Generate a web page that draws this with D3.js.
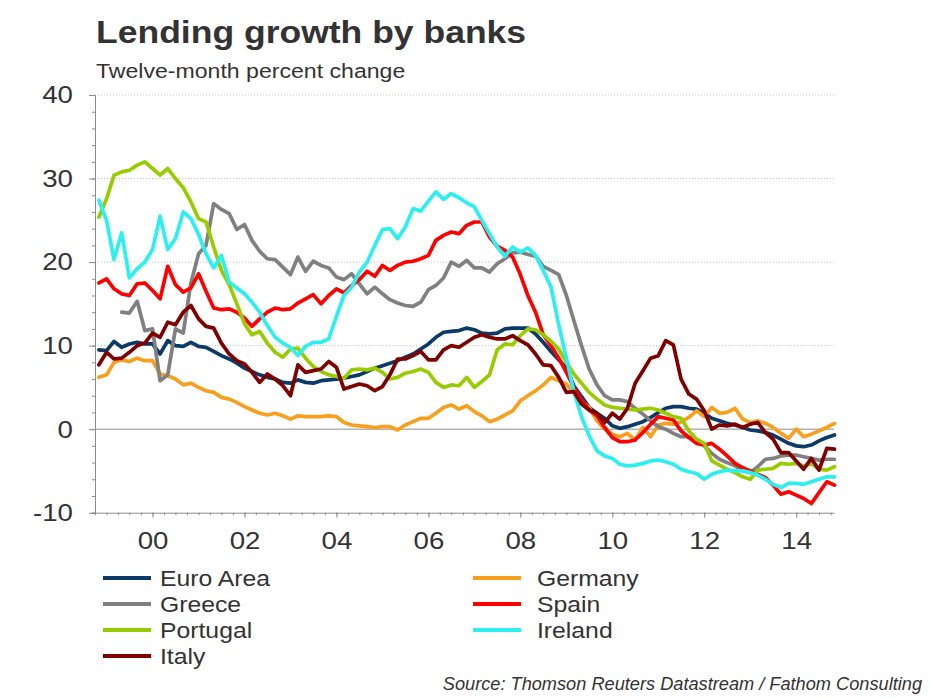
<!DOCTYPE html>
<html>
<head>
<meta charset="utf-8">
<script src="https://cdn.jsdelivr.net/npm/d3@7"></script>
<style>
  html, body { margin: 0; padding: 0; background: #fff; }
  svg { display: block; font-family: Arial, "Liberation Sans", sans-serif; }
</style>
</head>
<body>
<svg id="chart" width="930" height="699"></svg>
<script>
// ---- Data (two-monthly observations, twelve-month % change) ----
const months = [
  "1998-11",
  "1999-01","1999-03","1999-05","1999-07","1999-09","1999-11",
  "2000-01","2000-03","2000-05","2000-07","2000-09","2000-11",
  "2001-01","2001-03","2001-05","2001-07","2001-09","2001-11",
  "2002-01","2002-03","2002-05","2002-07","2002-09","2002-11",
  "2003-01","2003-03","2003-05","2003-07","2003-09","2003-11",
  "2004-01","2004-03","2004-05","2004-07","2004-09","2004-11",
  "2005-01","2005-03","2005-05","2005-07","2005-09","2005-11",
  "2006-01","2006-03","2006-05","2006-07","2006-09","2006-11",
  "2007-01","2007-03","2007-05","2007-07","2007-09","2007-11",
  "2008-01","2008-03","2008-05","2008-07","2008-09","2008-11",
  "2009-01","2009-03","2009-05","2009-07","2009-09","2009-11",
  "2010-01","2010-03","2010-05","2010-07","2010-09","2010-11",
  "2011-01","2011-03","2011-05","2011-07","2011-09","2011-11",
  "2012-01","2012-03","2012-05","2012-07","2012-09","2012-11",
  "2013-01","2013-03","2013-05","2013-07","2013-09","2013-11",
  "2014-01","2014-03","2014-05","2014-07","2014-09","2014-11"
];

const euroArea = [9.5,
  9.4,10.5,9.8,10.2,10.4,10.2, 10.2,9.0,10.6,10.0,9.9,10.4, 9.9,9.8,9.3,8.8,8.4,7.9,
  7.3,6.9,6.5,6.2,6.0,5.6, 5.5,5.9,5.6,5.5,5.8,5.9, 6.0,6.1,6.3,6.5,6.9,7.3,
  7.6,7.9,8.2,8.6,9.0,9.6, 10.2,11.0,11.6,11.7,11.8,12.1, 11.9,11.5,11.4,11.5,12.0,12.1,
  12.1,12.1,11.4,10.4,9.3,8.3, 7.3,5.2,3.9,2.6,1.9,1.3, 0.4,0.1,0.3,0.6,0.9,1.4,
  2.0,2.5,2.7,2.7,2.5,2.4, 1.9,1.3,1.0,0.7,0.5,0.2, -0.1,-0.2,-0.4,-0.7,-1.2,-1.7,
  -2.0,-2.1,-1.9,-1.4,-1.0,-0.7];

const germany = [6.2,
  6.5,8.0,8.3,8.1,8.5,8.2, 8.2,6.6,6.4,6.0,5.3,5.5, 5.0,4.6,4.4,3.8,3.6,3.2,
  2.7,2.3,1.9,1.7,1.9,1.6, 1.2,1.6,1.5,1.5,1.5,1.6, 1.5,0.8,0.5,0.4,0.3,0.2,
  0.3,0.3,-0.1,0.5,0.9,1.3, 1.3,1.9,2.6,2.9,2.4,2.8, 2.1,1.6,0.9,1.2,1.7,2.2,
  3.4,4.0,4.6,5.3,6.2,5.8, 5.4,4.4,3.3,2.6,1.0,0.0, -0.6,-0.9,-0.5,-1.3,0.2,-0.9,
  0.5,0.7,0.6,0.9,1.4,2.2, 1.5,2.6,1.9,2.0,2.5,1.2, 0.8,1.0,0.7,0.2,-0.5,-1.1,
  0.0,-0.9,-0.6,-0.2,0.2,0.7];

const greece = [null,
  null,null,14.0,13.9,15.3,11.8, 12.0,5.8,6.5,12.0,11.5,17.5, 21.0,22.0,27.0,26.3,25.8,23.9,
  24.5,22.6,21.3,20.4,20.3,19.4, 18.5,20.6,18.9,20.1,19.6,19.3, 18.2,17.9,18.6,17.4,16.2,17.0,
  16.2,15.5,15.1,14.8,14.7,15.2, 16.7,17.2,18.1,20.0,19.5,20.2, 19.3,19.3,18.8,19.8,20.4,21.1,
  21.2,20.9,20.7,19.5,19.0,18.5, 16.0,13.0,10.0,7.2,5.3,4.0, 3.5,3.5,3.3,2.5,1.8,1.0,
  0.3,0.0,-0.5,-0.9,-0.9,-1.3, -2.0,-2.9,-3.6,-4.0,-4.4,-4.9, -5.2,-4.5,-3.6,-3.5,-3.2,-3.1,
  -3.1,-3.3,-3.5,-3.7,-3.6,-3.6];

const spain = [17.5,
  18.0,16.8,16.2,16.0,17.4,17.5, 16.6,15.6,19.5,17.3,16.4,16.9, 18.6,16.5,14.5,14.3,14.4,14.0,
  13.3,12.3,13.2,14.0,14.5,14.3, 14.4,15.1,15.6,16.1,15.0,16.0, 16.8,16.3,17.2,17.9,18.9,18.3,
  19.6,19.0,19.6,20.0,20.1,20.4, 20.8,22.6,23.2,23.6,23.4,24.4, 24.8,24.8,23.0,21.9,21.4,20.6,
  18.5,16.0,14.0,11.3,10.0,8.5, 6.8,5.0,3.5,2.3,1.6,0.2, -1.0,-1.5,-1.5,-1.3,-0.4,0.6,
  1.5,1.3,1.1,-0.2,-1.0,-1.7, -1.9,-1.7,-2.4,-3.2,-4.1,-4.6, -5.0,-5.4,-5.8,-6.7,-7.8,-7.5,
  -7.9,-8.3,-8.9,-7.6,-6.3,-6.7];

const portugal = [25.4,
  27.6,30.4,30.8,31.0,31.6,32.0, 31.2,30.4,31.2,30.0,28.9,27.2, 25.2,24.8,21.8,19.0,17.3,15.0,
  12.6,11.3,11.7,10.3,9.2,8.6, 9.6,9.7,8.5,7.5,6.9,6.5, 6.3,6.1,7.1,7.2,7.1,7.3,
  6.8,6.0,6.2,6.7,6.9,7.2, 6.8,5.6,5.0,5.3,5.2,6.2, 5.0,5.7,6.5,9.5,10.2,10.1,
  11.2,12.0,11.9,11.3,10.5,9.6, 8.0,6.6,5.5,4.4,3.6,2.9, 2.6,2.5,2.4,2.3,2.4,2.5,
  2.3,1.9,1.5,1.3,-0.2,-1.2, -1.7,-3.8,-4.3,-4.8,-5.2,-5.7, -6.0,-4.9,-4.8,-4.7,-4.1,-4.2,
  -4.1,-4.4,-4.1,-4.8,-4.9,-4.5];

const ireland = [27.4,
  25.0,20.3,23.5,18.1,19.2,20.0, 21.5,25.5,21.5,22.8,26.0,25.2, 23.3,21.0,19.3,20.8,17.6,16.9,
  16.2,15.2,14.0,12.4,11.0,10.3, 9.8,8.8,9.9,10.4,10.4,10.8, 13.5,16.0,17.0,18.8,20.0,22.0,
  23.9,24.0,22.8,24.2,26.4,26.1, 27.3,28.4,27.5,28.2,27.7,27.1, 26.6,25.0,23.4,21.8,20.7,21.8,
  21.2,21.7,20.8,19.0,17.0,12.5, 8.5,4.5,1.5,-0.8,-2.6,-3.2, -3.5,-4.2,-4.4,-4.3,-4.1,-3.8,
  -3.7,-3.9,-4.2,-4.8,-5.1,-5.3, -6.0,-5.4,-5.1,-4.9,-5.0,-5.0, -5.2,-5.5,-6.0,-6.6,-7.0,-6.5,
  -6.5,-6.6,-6.3,-6.0,-5.7,-5.7];

const italy = [7.7,
  9.2,8.4,8.5,9.2,10.0,10.3, 11.5,11.0,12.8,12.5,14.0,14.8, 13.2,12.3,12.1,10.3,9.0,8.2,
  7.8,6.8,5.6,6.6,6.0,5.2, 4.0,7.7,6.8,7.0,7.2,8.1, 7.4,4.8,5.1,5.4,5.2,4.6,
  5.1,6.5,8.4,8.4,8.8,9.3, 8.3,8.3,9.5,10.0,9.8,10.4, 11.0,11.3,11.0,10.8,10.8,11.2,
  10.6,10.1,9.0,7.7,7.6,6.2, 4.4,4.5,3.0,2.3,1.9,0.8, 1.9,1.2,2.5,5.5,7.0,8.5,
  8.8,10.6,10.1,6.0,4.2,3.6, 2.2,0.0,0.5,0.4,0.6,0.2, 0.6,0.8,-0.4,-1.2,-2.8,-2.8,
  -3.8,-4.8,-3.5,-4.9,-2.3,-2.4];

const seriesNames  = ["Euro Area","Germany","Greece","Spain","Portugal","Ireland","Italy"];
const seriesValues = [euroArea, germany, greece, spain, portugal, ireland, italy];
const seriesColors = ["#0c3a68","#f8a01e","#808080","#fe0000","#99cc00","#2cf0f0","#800000"];

const yTicks = [-10, 0, 10, 20, 30, 40];
const gridValues = [10, 20, 30, 40];

// ---- Layout ----
const svg = d3.select("#chart");
const plot = { left: 95, right: 834, top: 95, bottom: 512.7 };
const parse = d3.timeParse("%Y-%m");
const dates = months.map(parse);

const x = d3.scaleTime()
  .domain([new Date(1998, 9, 1), new Date(2014, 9, 28)])
  .range([plot.left, plot.right]);
const y = d3.scaleLinear().domain([-10, 40]).range([plot.bottom, plot.top]);

const textColor = "#333333";
const axisColor = "#8c8c8c";
const FONT = "Arial, 'Liberation Sans', sans-serif";

// helper: text with horizontal stretch, anchored at (tx, ty)
function stretchedText(tx, ty, sx, txt, size, opts = {}) {
  const t = svg.append("text")
    .attr("transform", `translate(${tx},${ty}) scale(${sx},1)`)
    .attr("font-size", size).attr("fill", textColor).text(txt);
  if (opts.bold) t.attr("font-weight", "bold");
  if (opts.italic) t.attr("font-style", "italic");
  if (opts.anchor) t.attr("text-anchor", opts.anchor);
  return t;
}

// Titles
stretchedText(96, 43, 1.11, "Lending growth by banks", 32, { bold: true });
stretchedText(96, 78, 1.1, "Twelve-month percent change", 21);

// Gridlines (dotted)
svg.append("g").selectAll("line").data(gridValues).join("line")
  .attr("x1", plot.left).attr("x2", plot.right)
  .attr("y1", d => y(d)).attr("y2", d => y(d))
  .attr("stroke", "#c4c4c4").attr("stroke-width", 1)
  .attr("stroke-dasharray", "1,2");

// Zero line
svg.append("line")
  .attr("x1", plot.left).attr("x2", plot.right)
  .attr("y1", y(0)).attr("y2", y(0))
  .attr("stroke", axisColor).attr("stroke-width", 1);

// Y axis: minor ticks every 2, major every 10
const yMinor = d3.axisLeft(y).tickValues(d3.range(-10, 41, 2)).tickSize(3).tickFormat("");
svg.append("g").attr("transform", `translate(${plot.left},0)`).call(yMinor)
  .call(g => g.select(".domain").attr("stroke", axisColor))
  .call(g => g.selectAll(".tick line").attr("stroke", axisColor));
const yMajor = d3.axisLeft(y).tickValues(yTicks).tickSize(6).tickPadding(13.5).tickFormat(d => String(d));
svg.append("g").attr("transform", `translate(${plot.left},0)`).call(yMajor)
  .call(g => g.select(".domain").remove())
  .call(g => g.selectAll(".tick line").attr("stroke", axisColor))
  .call(g => g.selectAll(".tick text").attr("font-size", 24.5).attr("fill", textColor)
    .attr("font-family", FONT).attr("transform", "scale(1.13,1)"));

// X axis
const xMinor = d3.axisBottom(x).ticks(d3.timeMonth.every(3)).tickSize(2.5).tickFormat("").tickSizeOuter(0);
svg.append("g").attr("transform", `translate(0,${plot.bottom})`).call(xMinor)
  .call(g => g.select(".domain").attr("stroke", axisColor))
  .call(g => g.selectAll(".tick line").attr("stroke", axisColor));
const xMajor = d3.axisBottom(x).ticks(d3.timeYear.every(2)).tickSize(5).tickPadding(14)
  .tickFormat(d3.timeFormat("%y"));
svg.append("g").attr("transform", `translate(0,${plot.bottom})`).call(xMajor)
  .call(g => g.select(".domain").remove())
  .call(g => g.selectAll(".tick line").attr("stroke", axisColor))
  .call(g => g.selectAll(".tick text").attr("font-size", 24.5).attr("fill", textColor)
    .attr("font-family", FONT).attr("transform", "scale(1.13,1)"));

// Lines
const line = d3.line()
  .defined(d => d.v != null)
  .x(d => x(d.date))
  .y(d => y(d.v));

const seriesData = seriesNames.map((name, k) => ({
  name, color: seriesColors[k],
  points: dates.map((date, i) => ({ date, v: seriesValues[k][i] }))
}));

svg.append("g").selectAll("path").data(seriesData).join("path")
  .attr("d", d => line(d.points))
  .attr("fill", "none")
  .attr("stroke", d => d.color)
  .attr("stroke-width", 3.7)
  .attr("stroke-linejoin", "round")
  .attr("stroke-linecap", "round");

// Legend
const legendCols = [{ lx: 103, tx: 160 }, { lx: 473, tx: 537 }];
const legendRows = [578, 604, 630, 656];
const legendItems = seriesData.map((d, k) => ({
  ...d, col: legendCols[k % 2], row: legendRows[Math.floor(k / 2)]
}));
const lg = svg.append("g").selectAll("g").data(legendItems).join("g");
lg.append("line")
  .attr("x1", d => d.col.lx).attr("x2", d => d.col.lx + 48)
  .attr("y1", d => d.row).attr("y2", d => d.row)
  .attr("stroke", d => d.color).attr("stroke-width", 4);
lg.append("text")
  .attr("transform", d => `translate(${d.col.tx},${d.row + 8}) scale(1.1,1)`)
  .attr("font-size", 22.5).attr("fill", textColor)
  .text(d => d.name);

// Source
stretchedText(922, 690, 1.04, "Source: Thomson Reuters Datastream / Fathom Consulting", 17.5,
  { italic: true, anchor: "end" });
</script>
</body>
</html>
